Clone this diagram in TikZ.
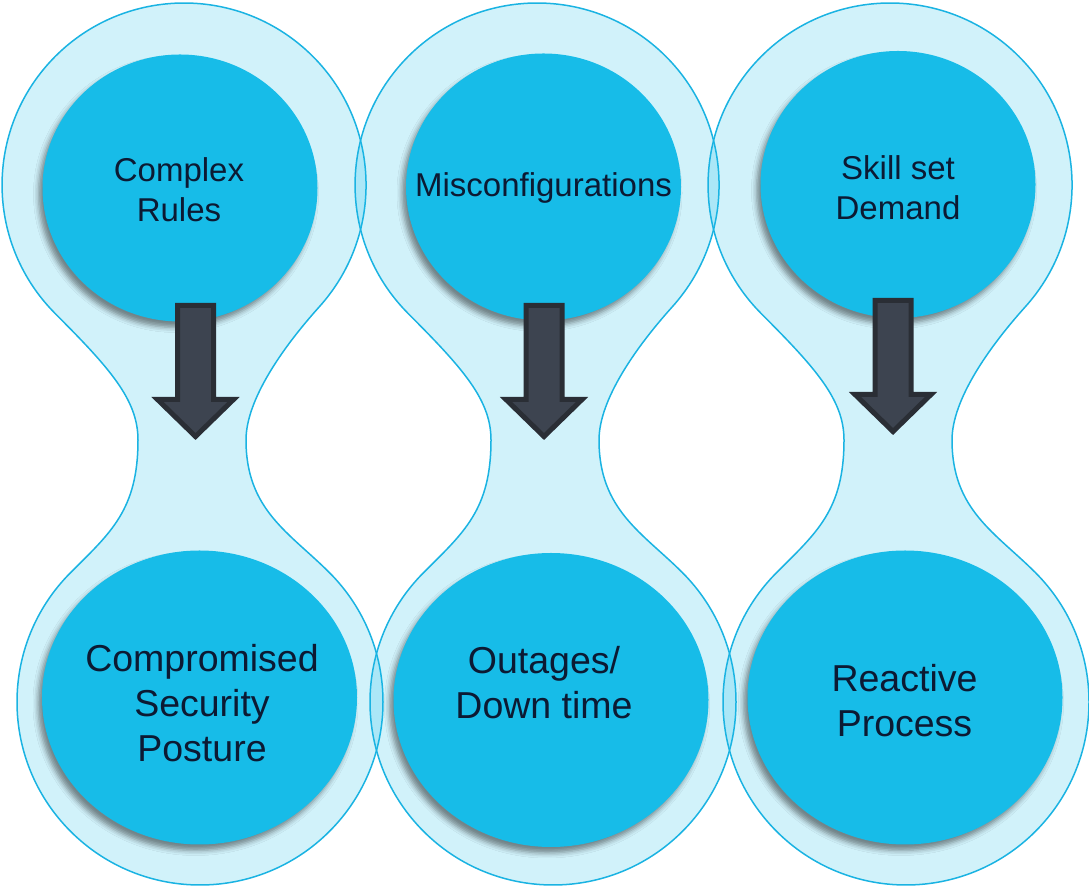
\documentclass[tikz,border=0pt]{standalone}
\usepackage{fontspec}
\setmainfont{Liberation Sans}
\usetikzlibrary{shapes.geometric,shadows.blur}

\definecolor{cyanfill}{HTML}{17BCE8}
\definecolor{rimline}{HTML}{1AB3E2}
\definecolor{arrowfill}{HTML}{3D4450}
\definecolor{arrowrim}{HTML}{2A2E35}
\definecolor{labeltext}{HTML}{0C1A33}

\tikzset{
  glass/.style={fill=cyanfill, fill opacity=0.2, draw=rimline, line width=1.5},
  disc/.style={ellipse, fill=cyanfill, inner sep=0pt,
    blur shadow={shadow xshift=-4pt, shadow yshift=-6pt, shadow blur radius=5pt, shadow opacity=45}},
  topdisc/.style={disc, minimum width=275, minimum height=267},
  botdisc/.style={disc, minimum width=315, minimum height=294},
  smalltext/.style={text=labeltext, align=center, inner sep=0pt, font=\fontsize{33}{40}\selectfont},
  bigtext/.style={text=labeltext, align=center, inner sep=0pt, font=\fontsize{37.5}{45}\selectfont},
  blockarrow/.style={fill=arrowfill, draw=arrowrim, line width=5, line join=miter}
}

\begin{document}
\begin{tikzpicture}[x=1pt,y=1pt]
    \useasboundingbox (0,0) rectangle (1089,888);
    % hourglass outlines
    \foreach \dx in {0,353,706}
        \filldraw[glass, shift={(\dx,0)}] (55.3,574.3)
            .. controls (110.3,519.3) and (138,488) .. (138,448)
            .. controls (138,378) and (110.6,355.4) .. (70.6,315.4)
            arc[start angle=135, end angle=405, radius=183]
            .. controls (289.4,355.4) and (246,378) .. (246,448)
            .. controls (246,488) and (282.5,540.3) .. (319.3,581.2)
            arc[start angle=-42, end angle=225, radius=182] -- cycle;
    % causes
    \node[topdisc] (rules) at (180,700) {};
    \node[topdisc] (misconf) at (543.5,701) {};
    \node[topdisc] (skills) at (898,703.5) {};
    % effects
    \node[botdisc] (posture) at (199.5,190.5) {};
    \node[botdisc] (outage) at (551,188) {};
    \node[botdisc] (process) at (905,190.5) {};
    % labels
    \node[smalltext] (rulestext) at (179,698) {Complex\\Rules};
    \node[smalltext] (misconftext) at (543.5,700) {Misconfigurations};
    \node[smalltext] (skillstext) at (898,700.5) {Skill set\\Demand};
    \node[bigtext] (posturetext) at (202,185) {Compromised\\Security\\Posture};
    \node[bigtext] (outagetext) at (544,205) {Outages/\\Down time};
    \node[bigtext] (processtext) at (904.5,187.5) {Reactive\\Process};
    % block arrows
    \foreach \ax/\ay in {195.5/582.5, 544/582.5, 893/587.5}
        \filldraw[blockarrow, shift={(\ax,\ay)}] (-18,0) -- (18,0) -- (18,-94)
            -- (38,-94) -- (0,-131) -- (-38,-94) -- (-18,-94) -- cycle;
\end{tikzpicture}
\end{document}
